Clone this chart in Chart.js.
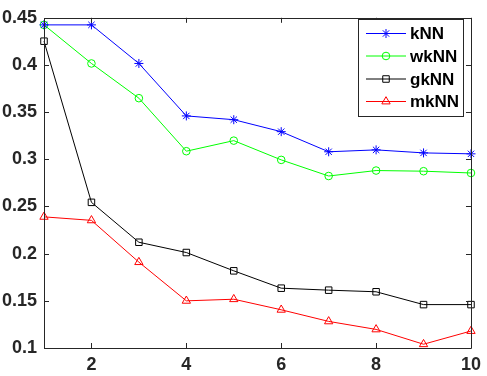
<!DOCTYPE html>
<html>
<head>
<meta charset="utf-8">
<script src="https://cdn.jsdelivr.net/npm/chart.js@4.4.0/dist/chart.umd.min.js"></script>
<style>
  body { margin: 0; background: #fff; }
  canvas { display: block; }
</style>
</head>
<body>
<canvas id="chart" width="487" height="376"></canvas>
<script>
// data
const xValues = [1, 2, 3, 4, 5, 6, 7, 8, 9, 10];
const knn  = [0.4425, 0.4425, 0.4016, 0.346, 0.342, 0.3293, 0.308, 0.310, 0.3068, 0.3058];
const wknn = [0.4425, 0.4016, 0.3648, 0.3086, 0.3198, 0.2994, 0.2823, 0.2881, 0.2874, 0.2855];
const gknn = [0.4252, 0.2544, 0.2121, 0.2012, 0.1818, 0.1634, 0.1613, 0.1596, 0.146, 0.146];
const mknn = [0.239, 0.2353, 0.191, 0.150, 0.1517, 0.1405, 0.1282, 0.1197, 0.104, 0.118];
const seriesNames = ['kNN', 'wkNN', 'gkNN', 'mkNN'];
const xTicks = [2, 4, 6, 8, 10];
const yTicks = [0.1, 0.15, 0.2, 0.25, 0.3, 0.35, 0.4, 0.45];

const axisColor = '#262626';
const tickFont = { family: 'Liberation Sans', size: 18, weight: 'bold' };

function toPoints(arr) {
    return arr.map((v, i) => ({ x: xValues[i], y: v }));
}

function makeSet(label, data, color, style, radius) {
    return {
        label: label,
        data: toPoints(data),
        borderColor: color,
        backgroundColor: 'rgba(0,0,0,0)',
        pointBorderColor: color,
        pointBackgroundColor: 'rgba(0,0,0,0)',
        pointStyle: style,
        pointRadius: radius,
        pointBorderWidth: 1,
        borderWidth: 1,
        tension: 0,
        clip: false
    };
}

// box + inward ticks like matlab axes
const boxPlugin = {
    id: 'box',
    afterDraw(chart) {
        const ctx = chart.ctx;
        const a = chart.chartArea;
        const xs = chart.scales.x, ys = chart.scales.y;
        ctx.save();
        ctx.strokeStyle = axisColor;
        ctx.lineWidth = 1;
        ctx.beginPath();
        ctx.rect(Math.round(a.left) + 0.5, Math.round(a.top) + 0.5,
                 Math.round(a.right - a.left), Math.round(a.bottom - a.top));
        ctx.stroke();
        const len = 5;
        ctx.beginPath();
        xTicks.forEach(t => {
            const px = Math.round(xs.getPixelForValue(t)) + 0.5;
            ctx.moveTo(px, a.bottom); ctx.lineTo(px, a.bottom - len);
            ctx.moveTo(px, a.top); ctx.lineTo(px, a.top + len);
        });
        yTicks.forEach(t => {
            const py = Math.round(ys.getPixelForValue(t)) + 0.5;
            ctx.moveTo(a.left, py); ctx.lineTo(a.left + len, py);
            ctx.moveTo(a.right, py); ctx.lineTo(a.right - len, py);
        });
        ctx.stroke();
        ctx.restore();
    }
};

// legend with line + marker samples
const legendPlugin = {
    id: 'matLegend',
    afterDraw(chart) {
        const ctx = chart.ctx;
        const bx = 358.5, by = 19.5, bw = 105, bh = 97;
        ctx.save();
        ctx.fillStyle = '#fff';
        ctx.fillRect(bx, by, bw, bh);
        ctx.strokeStyle = axisColor;
        ctx.lineWidth = 1;
        ctx.strokeRect(bx, by, bw, bh);
        const rowY = [33, 55.5, 78.5, 101];
        chart.data.datasets.forEach((ds, i) => {
            const y = rowY[i] + 0.5;
            ctx.strokeStyle = ds.borderColor;
            ctx.lineWidth = 1;
            ctx.beginPath();
            ctx.moveTo(366, y);
            ctx.lineTo(406, y);
            ctx.stroke();
            ctx.fillStyle = 'rgba(0,0,0,0)';
            Chart.helpers.drawPoint(ctx, {
                pointStyle: ds.pointStyle,
                radius: ds.pointRadius,
                borderWidth: 1,
                rotation: 0
            }, 386, y);
            ctx.fillStyle = '#000';
            ctx.font = 'bold 17px "Liberation Sans"';
            ctx.textBaseline = 'middle';
            ctx.textAlign = 'left';
            ctx.fillText(ds.label, 410, y + 1);
        });
        ctx.restore();
    }
};

new Chart(document.getElementById('chart'), {
    type: 'line',
    data: {
        datasets: [
            makeSet(seriesNames[0], knn, '#0000ff', 'star', 4.5),
            makeSet(seriesNames[1], wknn, '#00ff00', 'circle', 3.8),
            makeSet(seriesNames[2], gknn, '#000000', 'rect', 4.6),
            makeSet(seriesNames[3], mknn, '#ff0000', 'triangle', 4.8)
        ]
    },
    options: {
        responsive: false,
        animation: false,
        layout: { padding: { top: 6, right: 11, left: 0, bottom: 0 } },
        plugins: {
            legend: { display: false },
            tooltip: { enabled: false }
        },
        scales: {
            x: {
                type: 'linear',
                min: 1,
                max: 10,
                afterBuildTicks: (scale) => { scale.ticks = xTicks.map(v => ({ value: v })); },
                afterFit: (scale) => { scale.height = 28; },
                grid: { display: false, drawTicks: false },
                border: { display: false },
                ticks: { color: axisColor, font: tickFont, padding: 6, maxRotation: 0, callback: v => String(v) }
            },
            y: {
                type: 'linear',
                min: 0.1,
                max: 0.45,
                afterBuildTicks: (scale) => { scale.ticks = yTicks.map(v => ({ value: v })); },
                afterFit: (scale) => { scale.width = 44; },
                grid: { display: false, drawTicks: false },
                border: { display: false },
                ticks: { color: axisColor, font: tickFont, padding: 7, callback: v => String(Math.round(v * 100) / 100) }
            }
        }
    },
    plugins: [boxPlugin, legendPlugin]
});
</script>
</body>
</html>
